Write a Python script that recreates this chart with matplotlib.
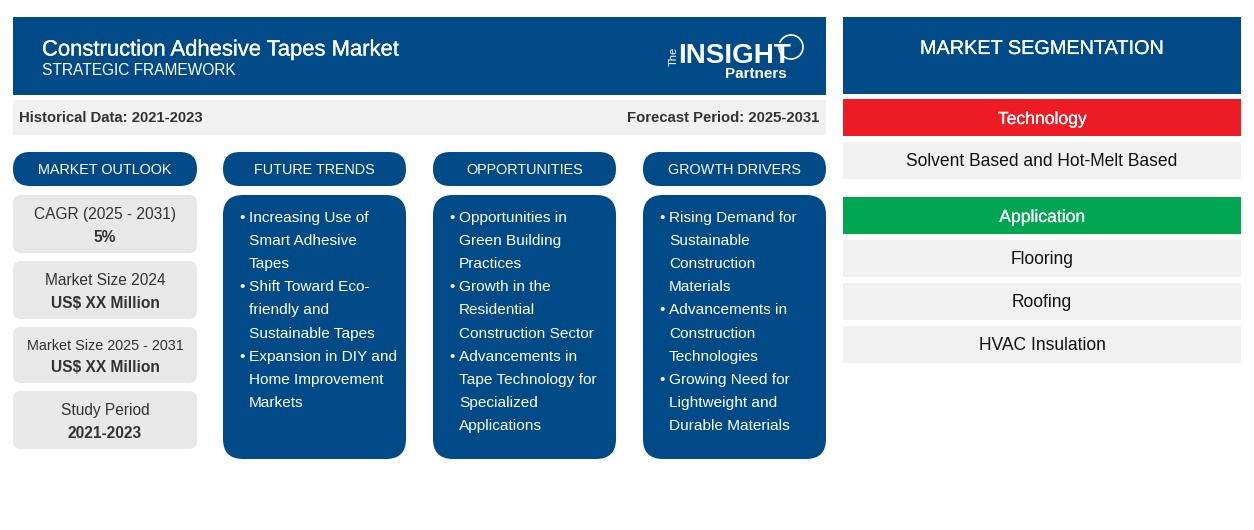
import matplotlib.pyplot as plt
import matplotlib.patheffects as pe
from matplotlib.patches import FancyBboxPatch, Rectangle, Arc

plt.rcParams['font.family'] = ['Liberation Sans', 'DejaVu Sans']

BLUE = '#004b87'
GREY = '#e8e8e8'
LIGHT = '#f1f1f1'
RED = '#ed1c24'
GREEN = '#00a651'
DARK = '#333333'

title = 'Construction Adhesive Tapes Market'
subtitle = 'STRATEGIC FRAMEWORK'
historical = 'Historical Data: 2021-2023'
forecast = 'Forecast Period: 2025-2031'

column_heads = ['MARKET OUTLOOK', 'FUTURE TRENDS', 'OPPORTUNITIES', 'GROWTH DRIVERS']

outlook_labels = ['CAGR (2025 - 2031)', 'Market Size 2024', 'Market Size 2025 - 2031', 'Study Period']
outlook_values = ['5%', 'US$ XX Million', 'US$ XX Million', '2021-2023']

trends = [['Increasing Use of', 'Smart Adhesive', 'Tapes'],
          ['Shift Toward Eco-', 'friendly and', 'Sustainable Tapes'],
          ['Expansion in DIY and', 'Home Improvement', 'Markets']]
opportunities = [['Opportunities in', 'Green Building', 'Practices'],
                 ['Growth in the', 'Residential', 'Construction Sector'],
                 ['Advancements in', 'Tape Technology for', 'Specialized', 'Applications']]
drivers = [['Rising Demand for', 'Sustainable', 'Construction', 'Materials'],
           ['Advancements in', 'Construction', 'Technologies'],
           ['Growing Need for', 'Lightweight and', 'Durable Materials']]

seg_title = 'MARKET SEGMENTATION'
technology = ['Solvent Based and Hot-Melt Based']
application = ['Flooring', 'Roofing', 'HVAC Insulation']


def rect(ax, x0, y0, x1, y1, color):
    ax.add_patch(Rectangle((x0, y0), x1 - x0, y1 - y0, fc=color, ec='none'))


def rounded(ax, x0, y0, x1, y1, r, color):
    ax.add_patch(FancyBboxPatch((x0 + r, y0 + r), x1 - x0 - 2 * r, y1 - y0 - 2 * r,
                                boxstyle=f'round,pad={r},rounding_size={r}', fc=color, ec='none'))


def label(ax, x, y, s, size, color='white', weight='normal', ha='center', stroke=0):
    t = ax.text(x, y, s, fontsize=size, color=color, fontweight=weight, ha=ha, va='center')
    if stroke:
        t.set_path_effects([pe.withStroke(linewidth=stroke, foreground=color)])
    return t


fig = plt.figure(figsize=(12.54, 5.30), dpi=100)
ax = fig.add_axes([0, 0, 1, 1])
ax.set_xlim(0, 1254)
ax.set_ylim(530, 0)
ax.axis('off')

# header
rect(ax, 13, 17, 826, 95, BLUE)
label(ax, 42, 50, title, 15.85, ha='left', stroke=0.2)
label(ax, 42, 70.5, subtitle, 11.2, ha='left')

# logo
ax.text(674, 56, 'The', fontsize=8, color='white', rotation=90, ha='center', va='center')
label(ax, 734, 56, 'INSIGHT', 20, weight='bold')
label(ax, 756, 73.5, 'Partners', 11, weight='bold')
ax.add_patch(Arc((791, 47), 24, 24, theta1=-160, theta2=190, ec='white', lw=1.2))

# period bar
rect(ax, 13, 100, 826, 135, LIGHT)
label(ax, 19, 118.5, historical, 10.75, color=DARK, weight='bold', ha='left')
label(ax, 819, 118.5, forecast, 10.75, color=DARK, weight='bold', ha='right')

# column heads
col_x = [(13, 197), (223, 406), (433, 616), (643, 826)]
for (x0, x1), head in zip(col_x, column_heads):
    rounded(ax, x0, 152, x1, 186, 17, BLUE)
    label(ax, (x0 + x1) / 2, 170.5, head, 10.4)

# market outlook cards
card_y = [(195, 253), (261, 319), (327, 383), (391, 449)]
size_lab = [11.2, 11.2, 10.4, 11.2]
value_off = [42.5, 42.5, 41, 42.5]
for (y0, y1), lab, val, sz, off in zip(card_y, outlook_labels, outlook_values, size_lab, value_off):
    rounded(ax, 13, y0, 197, y1, 8, GREY)
    label(ax, 105, y0 + 19.5, lab, sz, color=DARK)
    label(ax, 105, y0 + off, val, 11.2, color=DARK, weight='bold')

# bullet columns
for (x0, x1), items in zip(col_x[1:], [trends, opportunities, drivers]):
    rounded(ax, x0, 195, x1, 459, 20, BLUE)
    y = 218
    for item in items:
        label(ax, x0 + 19, y, '•', 10.8, ha='center')
        for line in item:
            label(ax, x0 + 26, y, line, 11.1, ha='left')
            y += 23.1

# segmentation
rect(ax, 843, 17, 1241, 94, BLUE)
label(ax, 1042, 48.5, seg_title, 14.3, stroke=0.15)
rect(ax, 843, 99, 1241, 136, RED)
label(ax, 1042, 119.5, 'Technology', 12.65, stroke=0.1)
rect(ax, 843, 142, 1241, 179, LIGHT)
label(ax, 1042, 162, technology[0], 12.65, color='#111111')
rect(ax, 843, 197, 1241, 234, GREEN)
label(ax, 1042, 217.5, 'Application', 12.65, stroke=0.1)
app_y = [(240, 277), (283, 320), (326, 363)]
for (y0, y1), name in zip(app_y, application):
    rect(ax, 843, y0, 1241, y1, LIGHT)
    label(ax, 1042, (y0 + y1) / 2 + 1, name, 12.65, color='#111111')

fig.savefig('out.png', dpi=100)
